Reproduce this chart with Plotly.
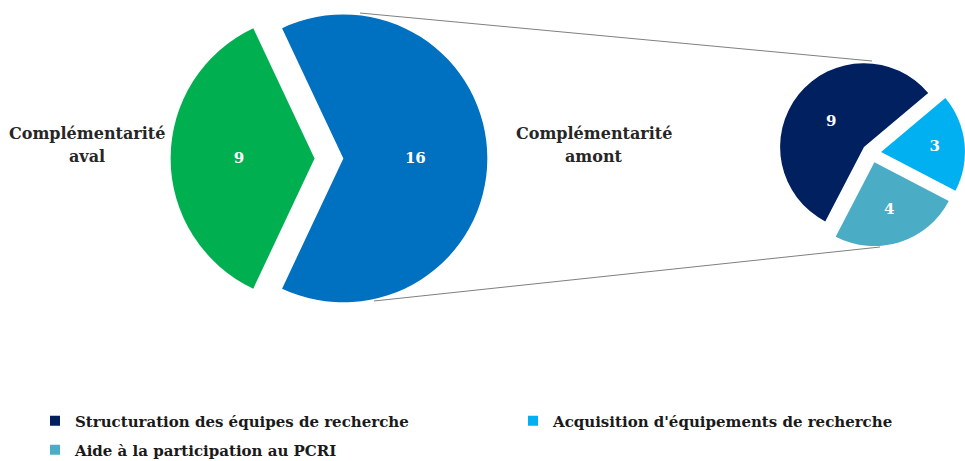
import plotly.graph_objects as go

# ---- data ----
main_labels = ["Complémentarité aval", "Complémentarité amont"]
main_values = [9, 16]
main_colors = ["#00B050", "#0070C0"]

sub_labels = ["Structuration des équipes de recherche",
              "Acquisition d'équipements de recherche",
              "Aide à la participation au PCRI"]
sub_values = [9, 3, 4]
sub_colors = ["#002060", "#00B0F0", "#4BACC6"]

W, H = 965, 461
FONT = "DejaVu Serif"

def px(x):
    return x / W

def py(y):
    return 1 - y / H

fig = go.Figure()

# main pie
fig.add_trace(go.Pie(
    labels=main_labels, values=main_values, sort=False,
    direction="clockwise", rotation=205.2,
    pull=[0.1, 0.1],
    marker=dict(colors=main_colors, line=dict(width=0)),
    textinfo="value", textposition="inside", insidetextorientation="horizontal",
    textfont=dict(family=FONT, size=15, color="white", weight="bold"),
    domain=dict(x=[0.1768, 0.5050], y=[0.3128, 1.0]),
    showlegend=False, hoverinfo="label+value",
))

# secondary pie
fig.add_trace(go.Pie(
    labels=sub_labels, values=sub_values, sort=False,
    direction="clockwise", rotation=207.5,
    pull=[0.115, 0.115, 0.115],
    marker=dict(colors=sub_colors, line=dict(width=0)),
    textinfo="value", textposition="inside", insidetextorientation="horizontal",
    textfont=dict(family=FONT, size=15, color="white", weight="bold"),
    domain=dict(x=[0.8062, 1.0], y=[0.448, 0.888]),
    showlegend=False, hoverinfo="label+value",
))

# legend entries (dummy traces mirroring the secondary pie categories)
legend_ids = ["legend", "legend2", "legend3"]
for lab, col, lg in zip(sub_labels, sub_colors, legend_ids):
    fig.add_trace(go.Scatter(
        x=[None], y=[None], mode="markers", name=lab, legend=lg,
        marker=dict(symbol="square", size=10, color=col),
        hoverinfo="skip",
    ))

# connector lines
for (x0, y0, x1, y1) in [(360, 13, 872, 61), (374, 301, 880, 247)]:
    fig.add_shape(type="line", xref="paper", yref="paper",
                  x0=px(x0), y0=py(y0), x1=px(x1), y1=py(y1),
                  line=dict(color="#7F7F7F", width=1))

# category labels
label_font = dict(family=FONT, size=16, color="#262626", weight="bold")
for txt, x, y in [("Complémentarité", 87, 134), ("aval", 87, 156),
                  ("Complémentarité", 594, 133), ("amont", 594, 156)]:
    fig.add_annotation(text=txt, x=px(x), y=py(y), xref="paper", yref="paper",
                       xanchor="center", yanchor="middle", showarrow=False,
                       font=label_font)

legend_font = dict(family=FONT, size=15, color="#1a1a1a", weight="bold")
common = dict(orientation="h", xanchor="left", yanchor="middle",
              font=legend_font, bgcolor="rgba(0,0,0,0)")
fig.update_layout(
    width=W, height=H,
    margin=dict(l=0, r=0, t=0, b=0, autoexpand=False),
    paper_bgcolor="white", plot_bgcolor="white",
    xaxis=dict(visible=False), yaxis=dict(visible=False),
    legend=dict(x=px(35), y=py(421), **common),
    legend2=dict(x=px(513), y=py(421), **common),
    legend3=dict(x=px(35), y=py(450), **common),
)

fig.write_html("out.html", config={"displayModeBar": False},
               post_script="document.body.style.margin='0';")
